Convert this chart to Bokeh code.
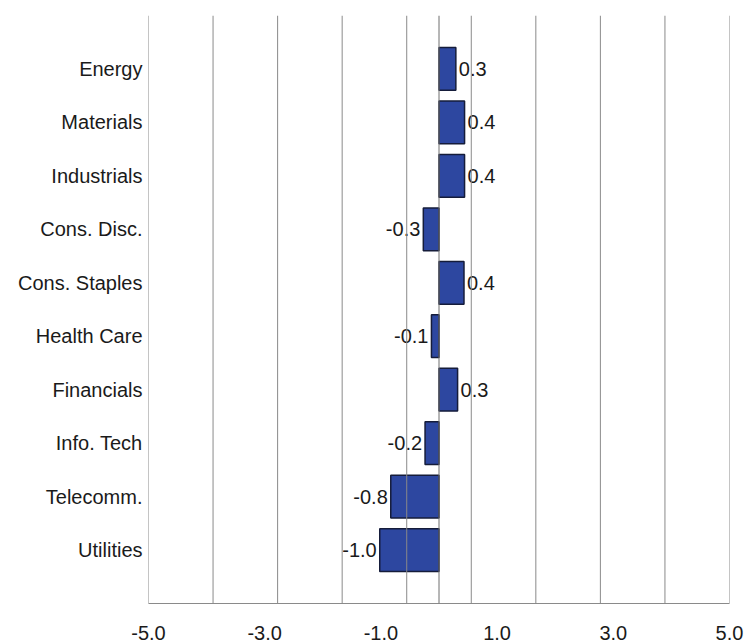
from bokeh.plotting import figure
from bokeh.models import ColumnDataSource, FactorRange, FixedTicker, NumeralTickFormatter, Span
from bokeh.core.properties import value
from bokeh.embed import file_html
from bokeh.resources import INLINE

sectors = ["Energy", "Materials", "Industrials", "Cons. Disc.", "Cons. Staples",
           "Health Care", "Financials", "Info. Tech", "Telecomm.", "Utilities"]
values = [0.29, 0.44, 0.44, -0.27, 0.43, -0.13, 0.32, -0.24, -0.83, -1.02]
tick_values = [-5, -3, -1, 1, 3, 5]
n_grid = 10  # vertical gridlines evenly spread over the axis span

FONT = "Liberation Sans"
BAR = "#2D47A0"
GRID = "#8a8a8a"

labels = ["%.1f" % v for v in values]
src = ColumnDataSource(dict(
    y=sectors, v=values, lab=labels,
    align=["left" if v >= 0 else "right" for v in values],
    off=[3 if v >= 0 else -3 for v in values],
))

p = figure(width=747, height=644, output_backend="svg", toolbar_location=None,
           x_range=(-5, 5), y_range=FactorRange(*sectors[::-1], range_padding=0.1),
           min_border_left=148, min_border_right=18, min_border_top=15, min_border_bottom=41)
p.outline_line_color = None
p.background_fill_color = "white"
p.border_fill_color = "white"

lo, hi = tick_values[0], tick_values[-1]
grid_ticks = [lo + k * (hi - lo) / (n_grid - 1) for k in range(n_grid)]
p.xgrid.grid_line_color = None
p.ygrid.grid_line_color = None
for g in grid_ticks:
    p.add_layout(Span(location=g, dimension="height", line_color=GRID, line_width=1))

p.add_layout(Span(location=0, dimension="height", line_color="#6e6e6e", line_width=1))

p.hbar(y="y", left=0, right="v", height=0.8, source=src,
       fill_color=BAR, line_color="#151c3a", line_width=1.5)

p.text(x="v", y="y", text="lab", source=src, text_align="align", x_offset="off",
       text_baseline="middle", text_font_size="20px", text_color="#1a1a1a",
       text_font=value(FONT))

xa = p.xaxis[0]
xa.ticker = FixedTicker(ticks=tick_values)
xa.formatter = NumeralTickFormatter(format="0.0")
xa.major_tick_line_color = None
xa.minor_tick_line_color = None
xa.axis_line_color = GRID
xa.major_label_standoff = 16
xa.major_label_text_font = FONT
xa.major_label_text_font_size = "20px"
xa.major_label_text_color = "#1a1a1a"

ya = p.yaxis[0]
ya.axis_line_color = None
ya.major_tick_line_color = None
ya.minor_tick_line_color = None
ya.major_label_standoff = 0
ya.major_label_text_font = FONT
ya.major_label_text_font_size = "20px"
ya.major_label_text_color = "#1a1a1a"

open("out.html", "w").write(file_html(p, INLINE))
